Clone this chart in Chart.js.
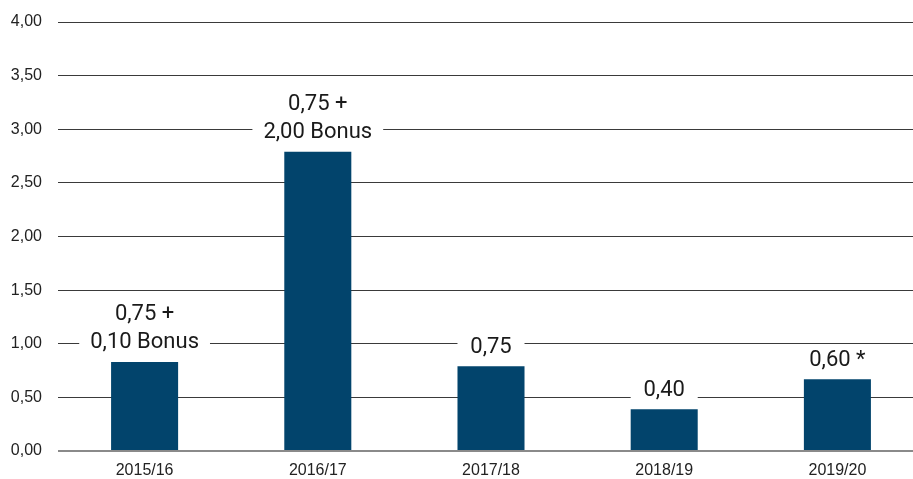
<!DOCTYPE html>
<html>
<head>
<meta charset="utf-8">
<script src="https://cdn.jsdelivr.net/npm/chart.js@4/dist/chart.umd.min.js"></script>
<style>
  html, body { margin: 0; padding: 0; background: #fff; overflow: hidden; }
  #wrap { width: 924px; height: 479px; }
</style>
</head>
<body>
<div id="wrap"><canvas id="c" width="924" height="479"></canvas></div>
<script>
const categories = ['2015/16', '2016/17', '2017/18', '2018/19', '2019/20'];
const values = [0.83, 2.79, 0.79, 0.39, 0.67];
const barLabels = [
  ['0,75 +', '0,10 Bonus'],
  ['0,75 +', '2,00 Bonus'],
  ['0,75'],
  ['0,40'],
  ['0,60 *']
];
const yTickValues = [0, 0.5, 1, 1.5, 2, 2.5, 3, 3.5, 4];
const yTickLabels = ['0,00', '0,50', '1,00', '1,50', '2,00', '2,50', '3,00', '3,50', '4,00'];

const labelFont = '22px Roboto';
const labelPlugin = {
  id: 'barLabels',
  afterDatasetsDraw(chart) {
    const ctx = chart.ctx;
    const meta = chart.getDatasetMeta(0);
    ctx.save();
    ctx.font = labelFont;
    ctx.textAlign = 'center';
    ctx.textBaseline = 'middle';
    meta.data.forEach((bar, i) => {
      const lines = barLabels[i];
      const lh = 28;
      const lastC = bar.y - 19;
      const firstC = lastC - (lines.length - 1) * lh;
      let tw = 0;
      lines.forEach(l => { tw = Math.max(tw, ctx.measureText(l).width); });
      const w = Math.max(bar.width, tw + 22);
      ctx.fillStyle = '#ffffff';
      ctx.fillRect(bar.x - w / 2, firstC - 14, w, (lastC + 12) - (firstC - 14));
      ctx.fillStyle = '#1a1a1a';
      lines.forEach((l, k) => ctx.fillText(l, bar.x, firstC + k * lh));
    });
    ctx.restore();
  }
};

new Chart(document.getElementById('c'), {
  type: 'bar',
  data: {
    labels: categories,
    datasets: [{
      data: values,
      backgroundColor: '#02446c',
      categoryPercentage: 1,
      barPercentage: 0.387
    }]
  },
  options: {
    responsive: false,
    animation: false,
    layout: { padding: { top: 22, right: 0, left: 0, bottom: 0 } },
    plugins: { legend: { display: false }, tooltip: { enabled: false } },
    scales: {
      x: {
        grid: { display: false, drawTicks: false },
        border: { display: false },
        ticks: { color: '#222', font: { family: 'Liberation Sans', size: 16 }, padding: 10, maxRotation: 0 },
        afterFit(scale) { scale.height = 28; }
      },
      y: {
        min: 0,
        max: 4,
        afterBuildTicks(scale) { scale.ticks = yTickValues.map(v => ({ value: v })); },
        grid: {
          drawTicks: false,
          color: ctx => ctx.tick && ctx.tick.value === 0 ? '#8a8a8a' : '#3a3a3a',
          lineWidth: ctx => ctx.tick && ctx.tick.value === 0 ? 2 : 1
        },
        border: { display: false },
        ticks: {
          color: '#222',
          font: { family: 'Liberation Sans', size: 16 },
          padding: 16,
          callback: (v, i) => yTickLabels[i]
        },
        afterFit(scale) { scale.width = 58; scale.paddingTop = 0; scale.paddingBottom = 0; }
      }
    }
  },
  plugins: [labelPlugin]
});
</script>
</body>
</html>
